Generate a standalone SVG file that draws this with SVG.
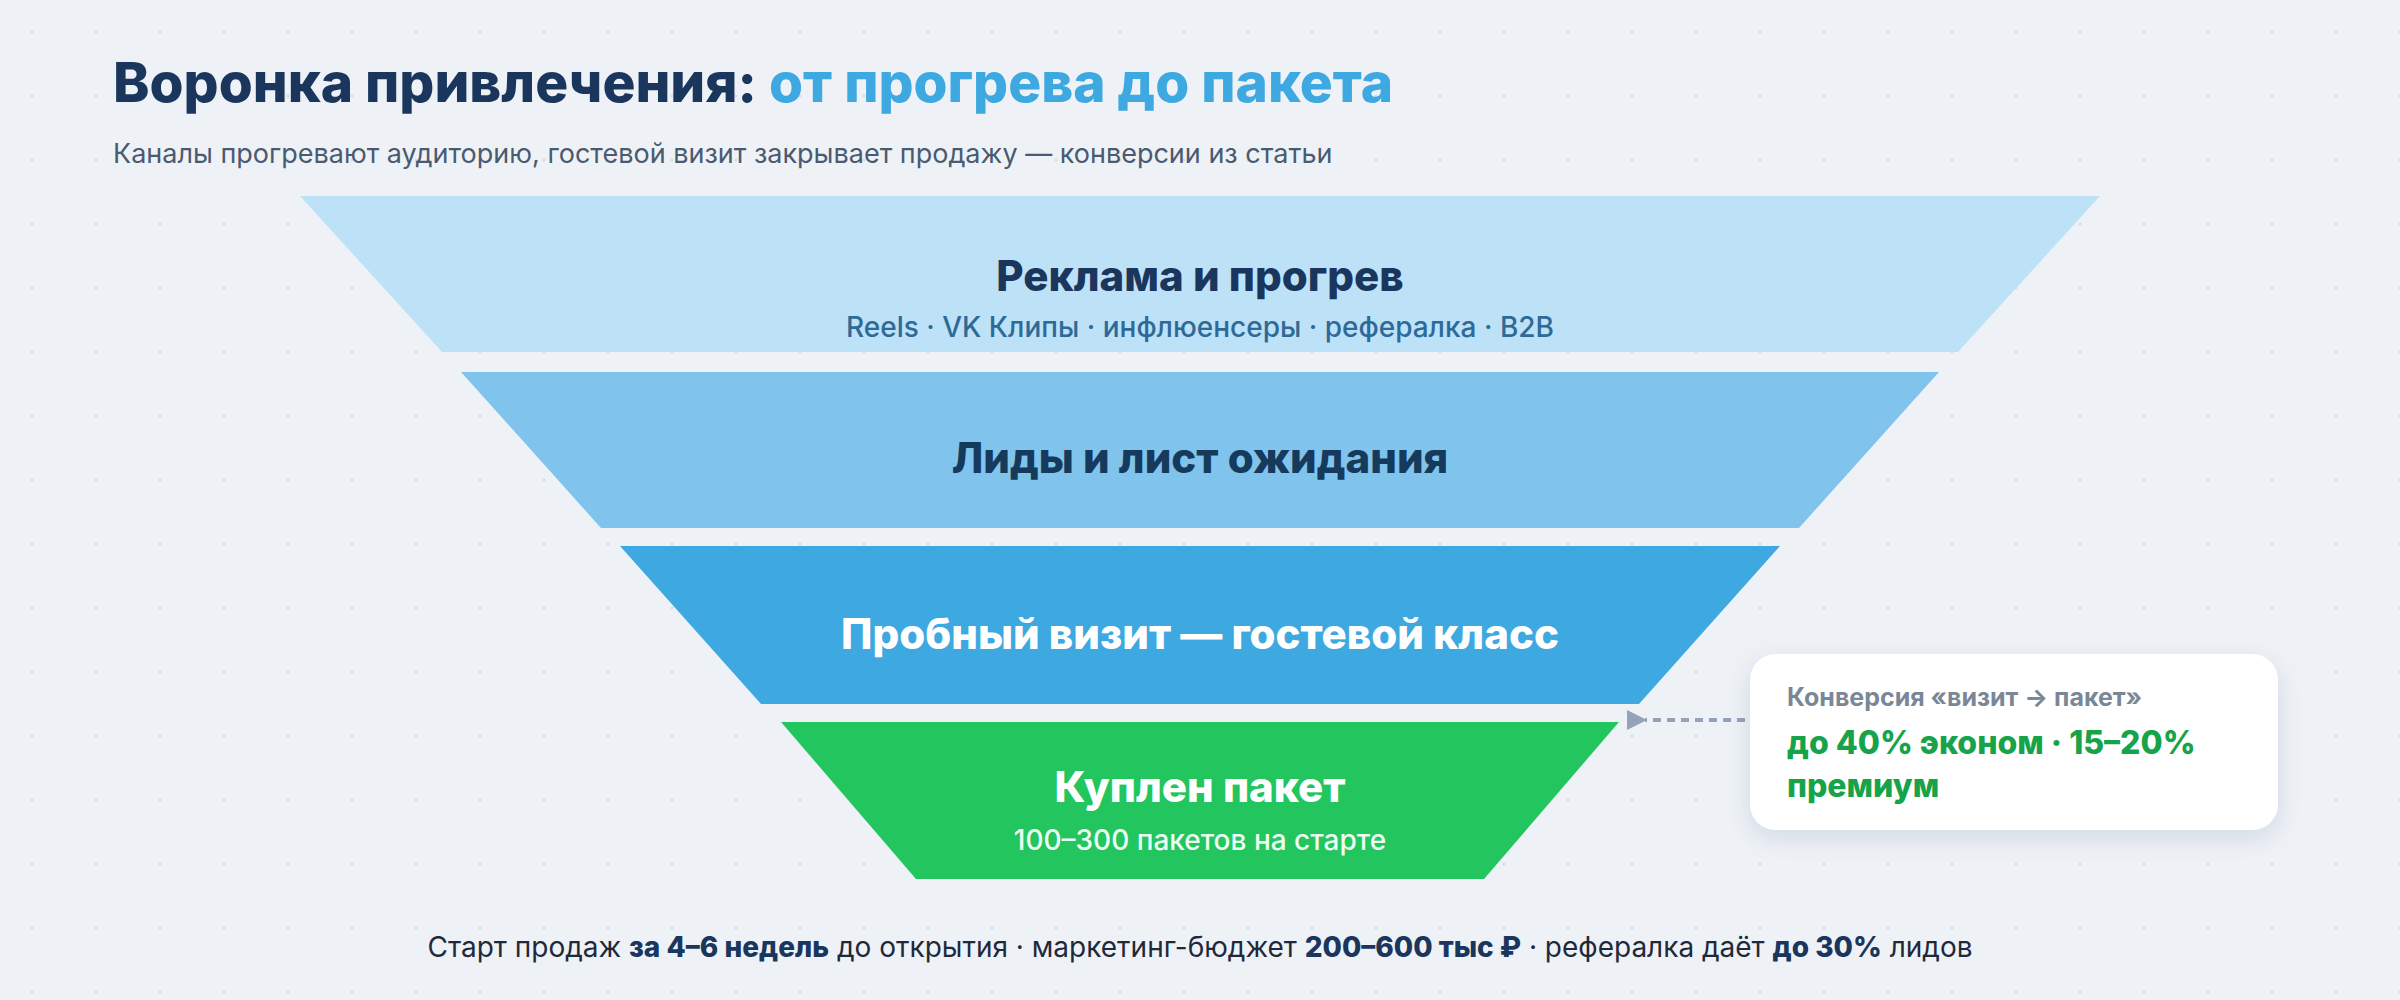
<svg xmlns="http://www.w3.org/2000/svg" width="2400" height="1000" viewBox="0 0 2400 1000">
<defs>
<pattern id="dots" width="64" height="64" patternUnits="userSpaceOnUse" x="0" y="0"><circle cx="32" cy="32" r="1.6" fill="#d5dde6"/></pattern>
<marker id="ah" viewBox="0 0 10 10" refX="1" refY="5" markerWidth="5" markerHeight="5" orient="auto-start-reverse"><path d="M10,0 L0,5 L10,10 z" fill="#94a3b8"/></marker>
<filter id="sh" x="-20%" y="-30%" width="140%" height="160%"><feDropShadow dx="0" dy="8" stdDeviation="12" flood-color="#1e3a5f" flood-opacity="0.12"/></filter>
</defs>
<style>
text{font-family:Inter,"Noto Sans","Liberation Sans",sans-serif}
.t{font-size:42px;font-weight:800;text-anchor:middle}
.s{font-size:28px;font-weight:500;text-anchor:middle}
</style>
<rect width="2400" height="1000" fill="#eef2f6"/>
<rect width="2400" height="1000" fill="url(#dots)"/>
<text x="113" y="102" font-size="55" font-weight="800" fill="#1a365d">Воронка привлечения: <tspan fill="#3ea8e0">от прогрева до пакета</tspan></text>
<text x="113" y="163" font-size="27" fill="#4a5a70">Каналы прогревают аудиторию, гостевой визит закрывает продажу — конверсии из статьи</text>
<g id="layer1"><polygon points="300,196 2100,196 1958,352 442,352" fill="#bde1f7"/>
<text class="t" x="1200" y="291" fill="#1a365d">Реклама и прогрев</text>
<text class="s" x="1200" y="337" fill="#2e6a98">Reels · VK Клипы · инфлюенсеры · рефералка · B2B</text></g>
<g id="layer2"><polygon points="461,372 1939,372 1799,528 601,528" fill="#80c4ee"/>
<text class="t" x="1200" y="473" fill="#163a5c">Лиды и лист ожидания</text></g>
<g id="layer3"><polygon points="620,546 1780,546 1639,704 761,704" fill="#3ea8e0"/>
<text class="t" x="1200" y="649" fill="#ffffff">Пробный визит — гостевой класс</text></g>
<g id="layer4"><polygon points="781,722 1619,722 1484,879 916,879" fill="#22c55e"/>
<text class="t" x="1200" y="802" fill="#ffffff">Куплен пакет</text>
<text class="s" x="1200" y="850" fill="#ecfdf3">100–300 пакетов на старте</text></g>
<g id="connectors"><line x1="1745" y1="720" x2="1645" y2="720" stroke="#94a3b8" stroke-width="4" stroke-dasharray="8,6" marker-end="url(#ah)"/></g>
<g id="callout"><rect x="1750" y="654" width="528" height="176" rx="26" fill="#ffffff" filter="url(#sh)"/>
<text x="1787" y="706" font-size="25" font-weight="700" fill="#7a8797">Конверсия «визит → пакет»</text>
<text x="1787" y="754" font-size="32" font-weight="800" fill="#16a34a">до 40% эконом · 15–20%</text>
<text x="1787" y="797" font-size="32" font-weight="800" fill="#16a34a">премиум</text></g>
<text x="1200" y="957" font-size="28" fill="#1e293b" text-anchor="middle">Старт продаж <tspan font-weight="800" fill="#1a365d">за 4–6 недель</tspan> до открытия · маркетинг-бюджет <tspan font-weight="800" fill="#1a365d">200–600 тыс ₽</tspan> · рефералка даёт <tspan font-weight="800" fill="#1a365d">до 30%</tspan> лидов</text>
</svg>
